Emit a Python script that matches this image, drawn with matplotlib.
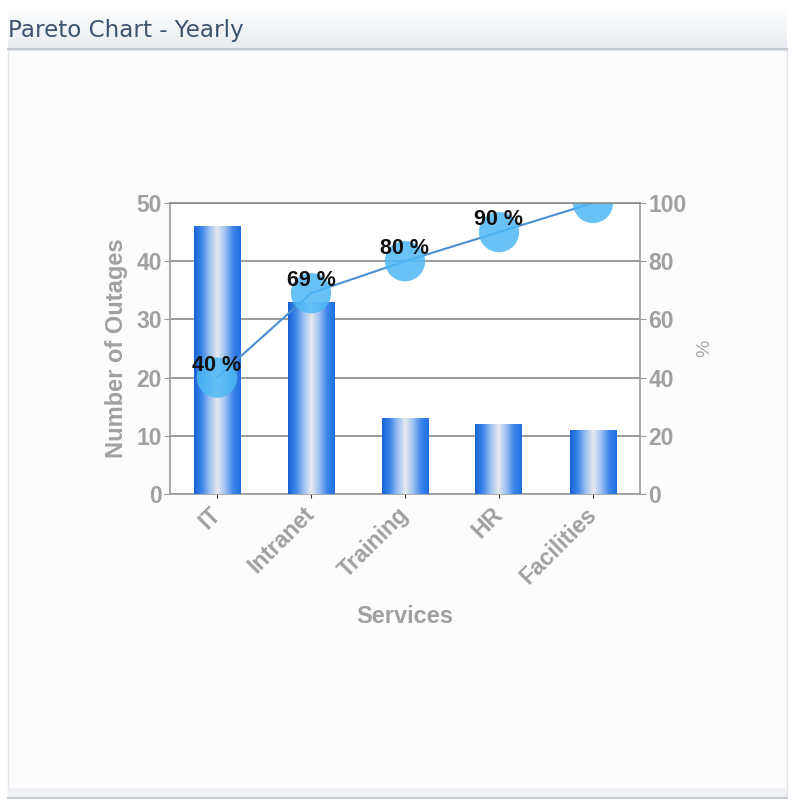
import numpy as np
import matplotlib
matplotlib.use("Agg")
import matplotlib.pyplot as plt
from matplotlib.patches import Rectangle
from matplotlib.colors import LinearSegmentedColormap

# ---- data ----
categories = ["IT", "Intranet", "Training", "HR", "Facilities"]
outages = [46, 33, 13, 12, 11]
cum_pct = [40, 69, 80, 90, 100]
pct_labels = ["40 %", "69 %", "80 %", "90 %", "100 %"]
left_ticks = [0, 10, 20, 30, 40, 50]
right_ticks = [0, 20, 40, 60, 80, 100]

W, H = 793, 801
fig = plt.figure(figsize=(W / 100, H / 100), dpi=100)
fig.patch.set_facecolor("white")

# ---- panel frame / header ----
bg = fig.add_axes([0, 0, 1, 1], zorder=-10)
bg.set_xlim(0, W)
bg.set_ylim(H, 0)
bg.axis("off")
bg.add_patch(Rectangle((8, 50), W - 14, 746, facecolor="#fcfcfd", edgecolor="#e2e5ea", lw=1.0))
bg.add_patch(Rectangle((8, 788), W - 14, 9, facecolor="#eef0f4", edgecolor="none"))
bg.plot([8, W - 6], [798, 798], color="#c9ccd2", lw=1.5)
hdr = np.linspace(0, 1, 50).reshape(-1, 1)
hcmap = LinearSegmentedColormap.from_list("h", ["#ffffff", "#f3f5f8", "#e9ecf0"])
bg.imshow(hdr, cmap=hcmap, extent=[8, W - 6, 48, 6], aspect="auto", zorder=0)
bg.plot([8, W - 6], [49, 49], color="#c4c9d0", lw=1.5)
bg.text(8, 30, "Pareto Chart - Yearly", fontsize=16.6, color="#3e5470",
        va="center", ha="left", family="DejaVu Sans")

# ---- main axes ----
L, R, T, B = 170, 640, 203, 494
ax = fig.add_axes([L / W, 1 - B / H, (R - L) / W, (B - T) / H])
ax.set_facecolor("white")
x = np.arange(len(categories))
bw = 0.5
bars = ax.bar(x, outages, width=bw, color="none", edgecolor="none", zorder=3)
bcmap = LinearSegmentedColormap.from_list(
    "b", ["#1562d6", "#3d86ea", "#9cc0f0", "#e6e9ef", "#9cc0f0", "#3d86ea", "#1f6fe0"])
grad = np.linspace(0, 1, 256).reshape(1, -1)
for b in bars:
    im = ax.imshow(grad, cmap=bcmap, aspect="auto", zorder=3,
                   extent=[b.get_x(), b.get_x() + b.get_width(), 0, b.get_height()])
    im.set_clip_path(b)

ax.set_xlim(-0.5, len(categories) - 0.5)
ax.set_ylim(0, 50)
ax.set_yticks(left_ticks)
ax.set_xticks(x)
ax.set_xticklabels(categories, rotation=45, ha="right", va="center", rotation_mode="anchor")
ax.grid(axis="y", color="#8a8a8a", lw=1.2, zorder=0)
ax.set_axisbelow(True)
for s in ["left", "right", "bottom"]:
    ax.spines[s].set_color("#9a9a9a")
    ax.spines[s].set_linewidth(1.2)
ax.spines["top"].set_visible(False)
ax.tick_params(axis="y", length=4, color="#9a9a9a", pad=2)
ax.tick_params(axis="x", length=3, color="#333333", pad=9)
for lab in ax.get_yticklabels() + ax.get_xticklabels():
    lab.set_fontsize(16.5); lab.set_fontweight("bold"); lab.set_color("#a0a0a0")
    lab.set_family("Liberation Sans")
ax.set_ylabel("Number of Outages", fontsize=17, fontweight="bold", color="#a0a0a0",
              family="Liberation Sans", labelpad=6)
ax.set_xlabel("Services", fontsize=17, fontweight="bold", color="#a0a0a0",
              family="Liberation Sans", labelpad=12)

# ---- secondary axis ----
ax2 = ax.twinx()
ax2.set_ylim(0, 100)
ax2.set_yticks(right_ticks)
for s in ["left", "right", "bottom"]:
    ax2.spines[s].set_visible(False)
ax2.spines["top"].set_color("#8a8a8a")
ax2.spines["top"].set_linewidth(1.2)
ax2.spines["top"].set_zorder(10)
ax2.tick_params(axis="y", length=4, color="#9a9a9a", pad=2)
for lab in ax2.get_yticklabels():
    lab.set_fontsize(16.5); lab.set_fontweight("bold"); lab.set_color("#a0a0a0")
    lab.set_family("Liberation Sans")
ax2.set_ylabel("%", fontsize=14, color="#a8a8a8", family="Liberation Sans", labelpad=7)
ax2.plot(x, cum_pct, color="#4a8fd4", lw=1.5, zorder=4)
sc = ax2.scatter(x, cum_pct, s=29 ** 2, color="#4db8f5", alpha=0.85,
                 edgecolors="none", zorder=5)
sc.set_clip_path(Rectangle((0, 0), 1, 1, transform=ax2.transAxes))
for xi, yi, t in zip(x, cum_pct, pct_labels):
    ax2.annotate(t, (xi, yi), xytext=(0, 9), textcoords="offset points",
                 ha="center", va="center", fontsize=15.5, fontweight="bold",
                 color="#111111", family="Liberation Sans", annotation_clip=True,
                 zorder=6, clip_on=True)

fig.savefig("out.png", dpi=100, facecolor="white")
